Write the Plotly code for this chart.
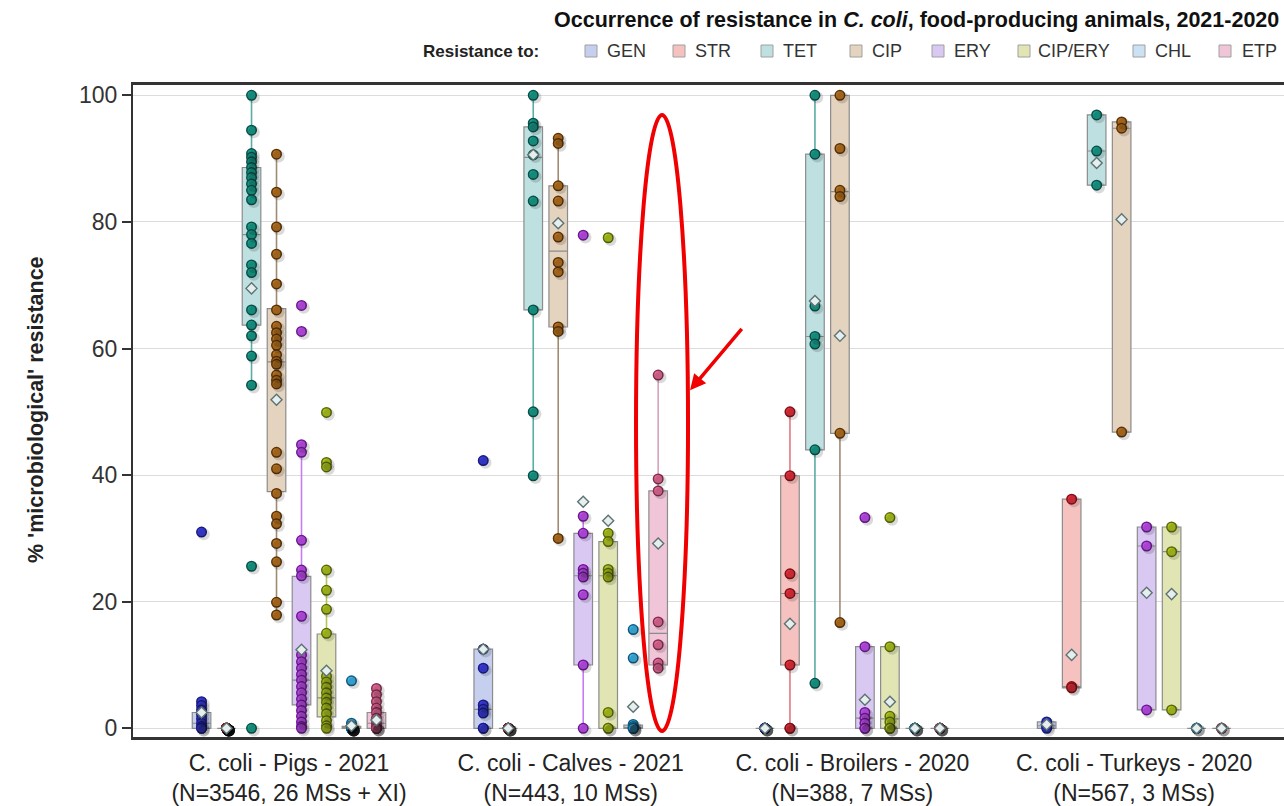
import plotly.graph_objects as go

# ---------------------------------------------------------------------------
# Categories
# ---------------------------------------------------------------------------
GROUPS = ["C. coli - Pigs - 2021", "C. coli - Calves - 2021",
          "C. coli - Broilers - 2020", "C. coli - Turkeys - 2020"]
GROUP_N = ["(N=3546, 26 MSs + XI)", "(N=443, 10 MSs)",
           "(N=388, 7 MSs)", "(N=567, 3 MSs)"]
ANTIMICROBIALS = ["GEN", "STR", "TET", "CIP", "ERY", "CIP/ERY", "CHL", "ETP"]
Y_TICKS = [0, 20, 40, 60, 80, 100]

# ---------------------------------------------------------------------------
# Country-level % resistance (one list per animal group) and box statistics
# ---------------------------------------------------------------------------
gen_pts = [
    [31.0, 4.2, 3.6, 2.9, 2.2, 1.5, 0.8, 0.3, 0.0, 0.0],
    [42.3, 12.5, 9.5, 3.7, 3.0, 2.4, 0.0, 0.0],
    [0.0, 0.0, 0.0, 0.0, 0.0, 0.0, 0.0],
    [1.0, 0.4, 0.0],
]
gen_q1 = [0.0, 0.0, 0.0, 0.0]
gen_med = [0.8, 3.0, 0.0, 0.4]
gen_q3 = [2.5, 12.5, 0.0, 1.0]
gen_lo = [0.0, 0.0, 0.0, 0.0]
gen_hi = [4.2, 12.5, 0.0, 1.0]
gen_mean = [2.5, 12.5, 0.0, 0.6]

str_pts = [
    [0.0, 0.0, 0.0, 0.0, 0.0, 0.0, 0.0, 0.0, 0.0, 0.0, 0.0, 0.0, 0.0,
     0.0, 0.0, 0.0, 0.0, 0.0, 0.0, 0.0, 0.0, 0.0, 0.0, 0.0, 0.0, 0.0],
    [0.0, 0.0, 0.0, 0.0, 0.0, 0.0, 0.0, 0.0, 0.0, 0.0],
    [50.0, 39.9, 24.4, 21.3, 10.0, 0.0, 0.0],
    [36.2, 6.6, 6.4],
]
str_q1 = [0.0, 0.0, 10.0, 6.4]
str_med = [0.0, 0.0, 21.3, 6.6]
str_q3 = [0.0, 0.0, 39.9, 36.2]
str_lo = [0.0, 0.0, 0.0, 6.4]
str_hi = [0.0, 0.0, 50.0, 36.2]
str_mean = [0.0, 0.0, 16.5, 11.6]

tet_pts = [
    [100.0, 94.5, 90.8, 90.2, 89.5, 88.6, 87.8, 87.0, 86.0, 85.0, 83.5, 79.2,
     78.0, 76.6, 73.2, 72.0, 66.1, 63.7, 62.0, 58.8, 54.2, 25.6, 0.0],
    [100.0, 95.6, 95.0, 92.8, 90.6, 87.5, 83.3, 66.1, 50.0, 39.9],
    [100.0, 90.7, 66.7, 61.9, 60.7, 44.0, 7.1],
    [96.9, 91.2, 85.8],
]
tet_q1 = [63.7, 66.1, 44.0, 85.8]
tet_med = [78.0, 90.2, 61.9, 91.2]
tet_q3 = [88.6, 95.0, 90.7, 96.9]
tet_lo = [54.2, 39.9, 7.1, 85.8]
tet_hi = [100.0, 100.0, 100.0, 96.9]
tet_mean = [69.5, 90.6, 67.5, 89.3]

cip_pts = [
    [90.7, 84.7, 79.2, 74.9, 70.2, 66.1, 63.5, 62.5, 61.5, 60.5, 59.0, 58.0,
     57.5, 55.8, 55.0, 54.4, 43.6, 41.0, 37.1, 33.5, 32.3, 29.2, 26.3, 19.9,
     17.9],
    [93.2, 92.4, 85.7, 83.3, 77.6, 73.6, 72.1, 63.4, 62.7, 30.0],
    [100.0, 91.6, 85.0, 84.0, 46.6, 16.7],
    [95.8, 94.8, 46.8],
]
cip_q1 = [37.4, 63.4, 46.6, 46.8]
cip_med = [57.9, 75.4, 84.8, 94.8]
cip_q3 = [66.3, 85.7, 100.0, 95.8]
cip_lo = [17.9, 30.0, 16.7, 46.8]
cip_hi = [90.7, 93.2, 100.0, 95.8]
cip_mean = [51.9, 79.8, 62.0, 80.4]

ery_pts = [
    [66.8, 62.7, 44.8, 43.6, 29.7, 25.0, 24.1, 17.7, 11.6, 10.5, 9.5, 8.5,
     7.6, 6.6, 5.6, 4.6, 3.7, 2.8, 1.9, 1.0, 0.3, 0.0],
    [77.9, 33.5, 30.8, 25.1, 24.5, 23.9, 21.1, 10.0, 0.0],
    [33.3, 12.9, 2.5, 1.6, 0.8, 0.0, 0.0],
    [31.8, 28.8, 2.9],
]
ery_q1 = [3.7, 10.0, 0.0, 2.9]
ery_med = [7.6, 24.1, 1.6, 28.8]
ery_q3 = [24.0, 30.8, 12.9, 31.8]
ery_lo = [0.0, 0.0, 0.0, 2.9]
ery_hi = [44.8, 33.5, 12.9, 31.8]
ery_mean = [12.4, 35.8, 4.5, 21.4]

cipery_pts = [
    [49.9, 42.0, 41.3, 25.0, 21.8, 18.8, 15.0, 8.2, 7.3, 6.5, 5.6, 4.8, 4.1,
     3.2, 2.3, 1.2, 0.4, 0.0],
    [77.5, 30.8, 29.5, 25.1, 24.5, 23.9, 2.5, 0.0, 0.0],
    [33.3, 12.9, 1.9, 1.0, 0.0, 0.0, 0.0],
    [31.8, 27.9, 2.9],
]
cipery_q1 = [1.8, 0.0, 0.0, 2.9]
cipery_med = [4.8, 24.1, 1.5, 27.9]
cipery_q3 = [14.9, 29.5, 12.9, 31.8]
cipery_lo = [0.0, 0.0, 0.0, 2.9]
cipery_hi = [25.0, 30.8, 12.9, 31.8]
cipery_mean = [9.1, 32.8, 4.2, 21.2]

chl_pts = [
    [7.5, 0.8, 0.4, 0.0, 0.0, 0.0, 0.0, 0.0, 0.0, 0.0, 0.0, 0.0, 0.0, 0.0,
     0.0, 0.0, 0.0, 0.0, 0.0, 0.0],
    [15.6, 11.1, 0.6, 0.3, 0.0, 0.0, 0.0, 0.0],
    [0.0, 0.0, 0.0, 0.0, 0.0, 0.0, 0.0],
    [0.0, 0.0, 0.0],
]
chl_q1 = [0.0, 0.0, 0.0, 0.0]
chl_med = [0.0, 0.1, 0.0, 0.0]
chl_q3 = [0.3, 0.5, 0.0, 0.0]
chl_lo = [0.0, 0.0, 0.0, 0.0]
chl_hi = [0.8, 0.6, 0.0, 0.0]
chl_mean = [0.4, 3.4, 0.0, 0.0]

etp_pts = [
    [6.3, 5.3, 4.2, 3.2, 2.5, 1.6, 0.8, 0.3, 0.0, 0.0, 0.0, 0.0],
    [55.8, 39.4, 37.5, 16.8, 13.2, 10.3, 9.5],
    [0.0, 0.0, 0.0, 0.0, 0.0, 0.0, 0.0],
    [0.0, 0.0, 0.0],
]
etp_q1 = [0.0, 10.0, 0.0, 0.0]
etp_med = [0.8, 15.0, 0.0, 0.0]
etp_q3 = [2.5, 37.5, 0.0, 0.0]
etp_lo = [0.0, 9.5, 0.0, 0.0]
etp_hi = [6.3, 55.8, 0.0, 0.0]
etp_mean = [1.3, 29.2, 0.0, 0.0]

# ---------------------------------------------------------------------------
# Styling
# ---------------------------------------------------------------------------
POINT_FILL = ["#3a3ee0", "#e8303c", "#17a08e", "#b8731f",
              "#c44ff0", "#b2c81e", "#3fb8ec", "#e86a9a"]
POINT_EDGE = ["#1a1a80", "#801018", "#0a5048", "#5a3208",
              "#6a1a90", "#5a6a0a", "#105a80", "#80304e"]
BOX_FILL = ["#c6d0ee", "#f5c2bf", "#bfe0e0", "#e4d3be",
            "#d9c9f2", "#e1e5b4", "#cce1f3", "#f0c5d7"]
WHISKER = ["#6a70d8", "#e27a82", "#5aaca4", "#a08a72",
           "#c67cf2", "#b4c45a", "#7cc4ea", "#d8a2bc"]

FONT = "Liberation Sans, Arial, sans-serif"
STEP = 0.0887        # spacing between antimicrobials inside a group
BOX_W = 0.066

series = [
    (gen_pts, gen_q1, gen_med, gen_q3, gen_lo, gen_hi, gen_mean),
    (str_pts, str_q1, str_med, str_q3, str_lo, str_hi, str_mean),
    (tet_pts, tet_q1, tet_med, tet_q3, tet_lo, tet_hi, tet_mean),
    (cip_pts, cip_q1, cip_med, cip_q3, cip_lo, cip_hi, cip_mean),
    (ery_pts, ery_q1, ery_med, ery_q3, ery_lo, ery_hi, ery_mean),
    (cipery_pts, cipery_q1, cipery_med, cipery_q3, cipery_lo, cipery_hi,
     cipery_mean),
    (chl_pts, chl_q1, chl_med, chl_q3, chl_lo, chl_hi, chl_mean),
    (etp_pts, etp_q1, etp_med, etp_q3, etp_lo, etp_hi, etp_mean),
]


def pos(g, k):
    return g + (k - 3.5) * STEP


fig = go.Figure()

whisker_traces, point_traces, shadow_traces, mean_traces = [], [], [], []

for k, (pts, q1, med, q3, lo, hi, mean) in enumerate(series):
    xs = [pos(g, k) for g in range(len(GROUPS))]

    # box (no whiskers: drawn separately in the series colour)
    fig.add_trace(go.Box(
        x=xs, q1=q1, median=med, q3=q3, lowerfence=q1, upperfence=q3,
        width=BOX_W, fillcolor=BOX_FILL[k], whiskerwidth=0,
        line=dict(color="#8c8c8c", width=1.2), boxpoints=False,
        showlegend=False, hoverinfo="skip", name=ANTIMICROBIALS[k]))

    wx, wy = [], []
    for g in range(len(GROUPS)):
        if lo[g] < q1[g]:
            wx += [xs[g], xs[g], None]
            wy += [lo[g], q1[g], None]
        if hi[g] > q3[g]:
            wx += [xs[g], xs[g], None]
            wy += [q3[g], hi[g], None]
    whisker_traces.append(go.Scatter(
        x=wx, y=wy, mode="lines", line=dict(color=WHISKER[k], width=1.6),
        showlegend=False, hoverinfo="skip"))

    px, py = [], []
    for g in range(len(GROUPS)):
        px += [xs[g]] * len(pts[g])
        py += pts[g]
    point_traces.append(go.Scatter(
        x=px, y=py, mode="markers", name=ANTIMICROBIALS[k],
        marker=dict(symbol="circle", size=9.5, color=POINT_FILL[k],
                    line=dict(color=POINT_EDGE[k], width=1.5)),
        showlegend=False))
    # soft drop shadow, darker where countries pile up on the same value
    shadow_traces.append(go.Scatter(
        x=[v + 0.008 for v in px], y=[v - 0.35 for v in py], mode="markers",
        marker=dict(symbol="circle", size=12, color="rgba(10,10,10,0.15)",
                    line=dict(width=0)),
        showlegend=False, hoverinfo="skip"))
    mean_traces.append(go.Scatter(
        x=xs, y=mean, mode="markers",
        marker=dict(symbol="diamond", size=8.5, color="#e6eeee",
                    line=dict(color="#5d7373", width=1.4)),
        showlegend=False, hoverinfo="skip"))

for t in whisker_traces + point_traces + shadow_traces + mean_traces:
    fig.add_trace(t)

# ---------------------------------------------------------------------------
# Layout
# ---------------------------------------------------------------------------
W, H = 1284, 806
ML, MR, MT, MB = 133, 0, 85, 69
PW, PH = W - ML - MR, H - MT - MB


def fx(px_):
    return (px_ - ML) / PW


def fy(py_):
    return (H - MB - py_) / PH


fig.update_layout(
    width=W, height=H,
    margin=dict(l=ML, r=MR, t=MT, b=MB, pad=0),
    paper_bgcolor="white", plot_bgcolor="white",
    font=dict(family=FONT, color="#222"),
    boxmode="overlay",
    xaxis=dict(range=[-0.5538, 3.532], tickvals=list(range(len(GROUPS))),
               ticktext=[f"{a}<br>{b}" for a, b in zip(GROUPS, GROUP_N)],
               tickfont=dict(size=23, color="#222"), ticks="",
               ticklabelstandoff=4,
               showline=True, linecolor="#333", linewidth=2.5, mirror=True,
               showgrid=False, zeroline=False),
    yaxis=dict(range=[-1.374, 101.63], tickvals=Y_TICKS,
               tickfont=dict(size=23, color="#333"), ticks="outside",
               ticklen=9, tickwidth=1.5, tickcolor="#333",
               showline=True, linecolor="#333", linewidth=2,
               showgrid=True, gridcolor="#dcdcdc", gridwidth=1,
               zeroline=False),
)

annotations = [
    dict(text="<b>Occurrence of resistance in <i>C. coli</i>, "
              "food-producing animals, 2021-2020</b>",
         x=fx(1281), y=fy(20), xref="paper", yref="paper",
         xanchor="right", yanchor="middle", showarrow=False,
         font=dict(size=21.5, color="#111", family=FONT)),
    dict(text="<b>Resistance to:</b>", x=fx(541), y=fy(51),
         xref="paper", yref="paper", xanchor="right", yanchor="middle",
         showarrow=False, font=dict(size=17, color="#222", family=FONT)),
    dict(text="<b>% 'microbiological' resistance</b>", textangle=-90,
         x=fx(36), y=fy(410), xref="paper", yref="paper",
         xanchor="center", yanchor="middle", showarrow=False,
         font=dict(size=21.5, color="#222", family=FONT)),
]
shapes = []

# manual legend row
SWATCH_X = [585, 673, 761, 850, 932, 1018, 1133, 1219]
LABEL_X = [605, 693, 781, 870, 952, 1036, 1153, 1240]
for k, name in enumerate(ANTIMICROBIALS):
    shapes.append(dict(type="rect", xref="paper", yref="paper",
                       x0=fx(SWATCH_X[k]), x1=fx(SWATCH_X[k] + 12),
                       y0=fy(57), y1=fy(45), fillcolor=BOX_FILL[k],
                       line=dict(color="#a0a0a0", width=1)))
    annotations.append(dict(text=name, x=fx(LABEL_X[k]), y=fy(51),
                            xref="paper", yref="paper", xanchor="left",
                            yanchor="middle", showarrow=False,
                            font=dict(size=18, color="#333", family=FONT)))

# red highlight around the calves ETP column, with pointer arrow
shapes.append(dict(type="circle", xref="x", yref="y",
                   x0=1.2318, x1=1.4164, y0=-0.43, y1=96.9,
                   line=dict(color="#f00000", width=4), layer="above"))
annotations.append(dict(text="", x=1.4235, y=53.4, xref="x", yref="y",
                        ax=53, ay=-63, axref="pixel", ayref="pixel",
                        showarrow=True, arrowhead=2, arrowsize=0.9,
                        arrowwidth=3.5, arrowcolor="#f00000"))

fig.update_layout(annotations=annotations, shapes=shapes)

fig.write_html("out.html")
